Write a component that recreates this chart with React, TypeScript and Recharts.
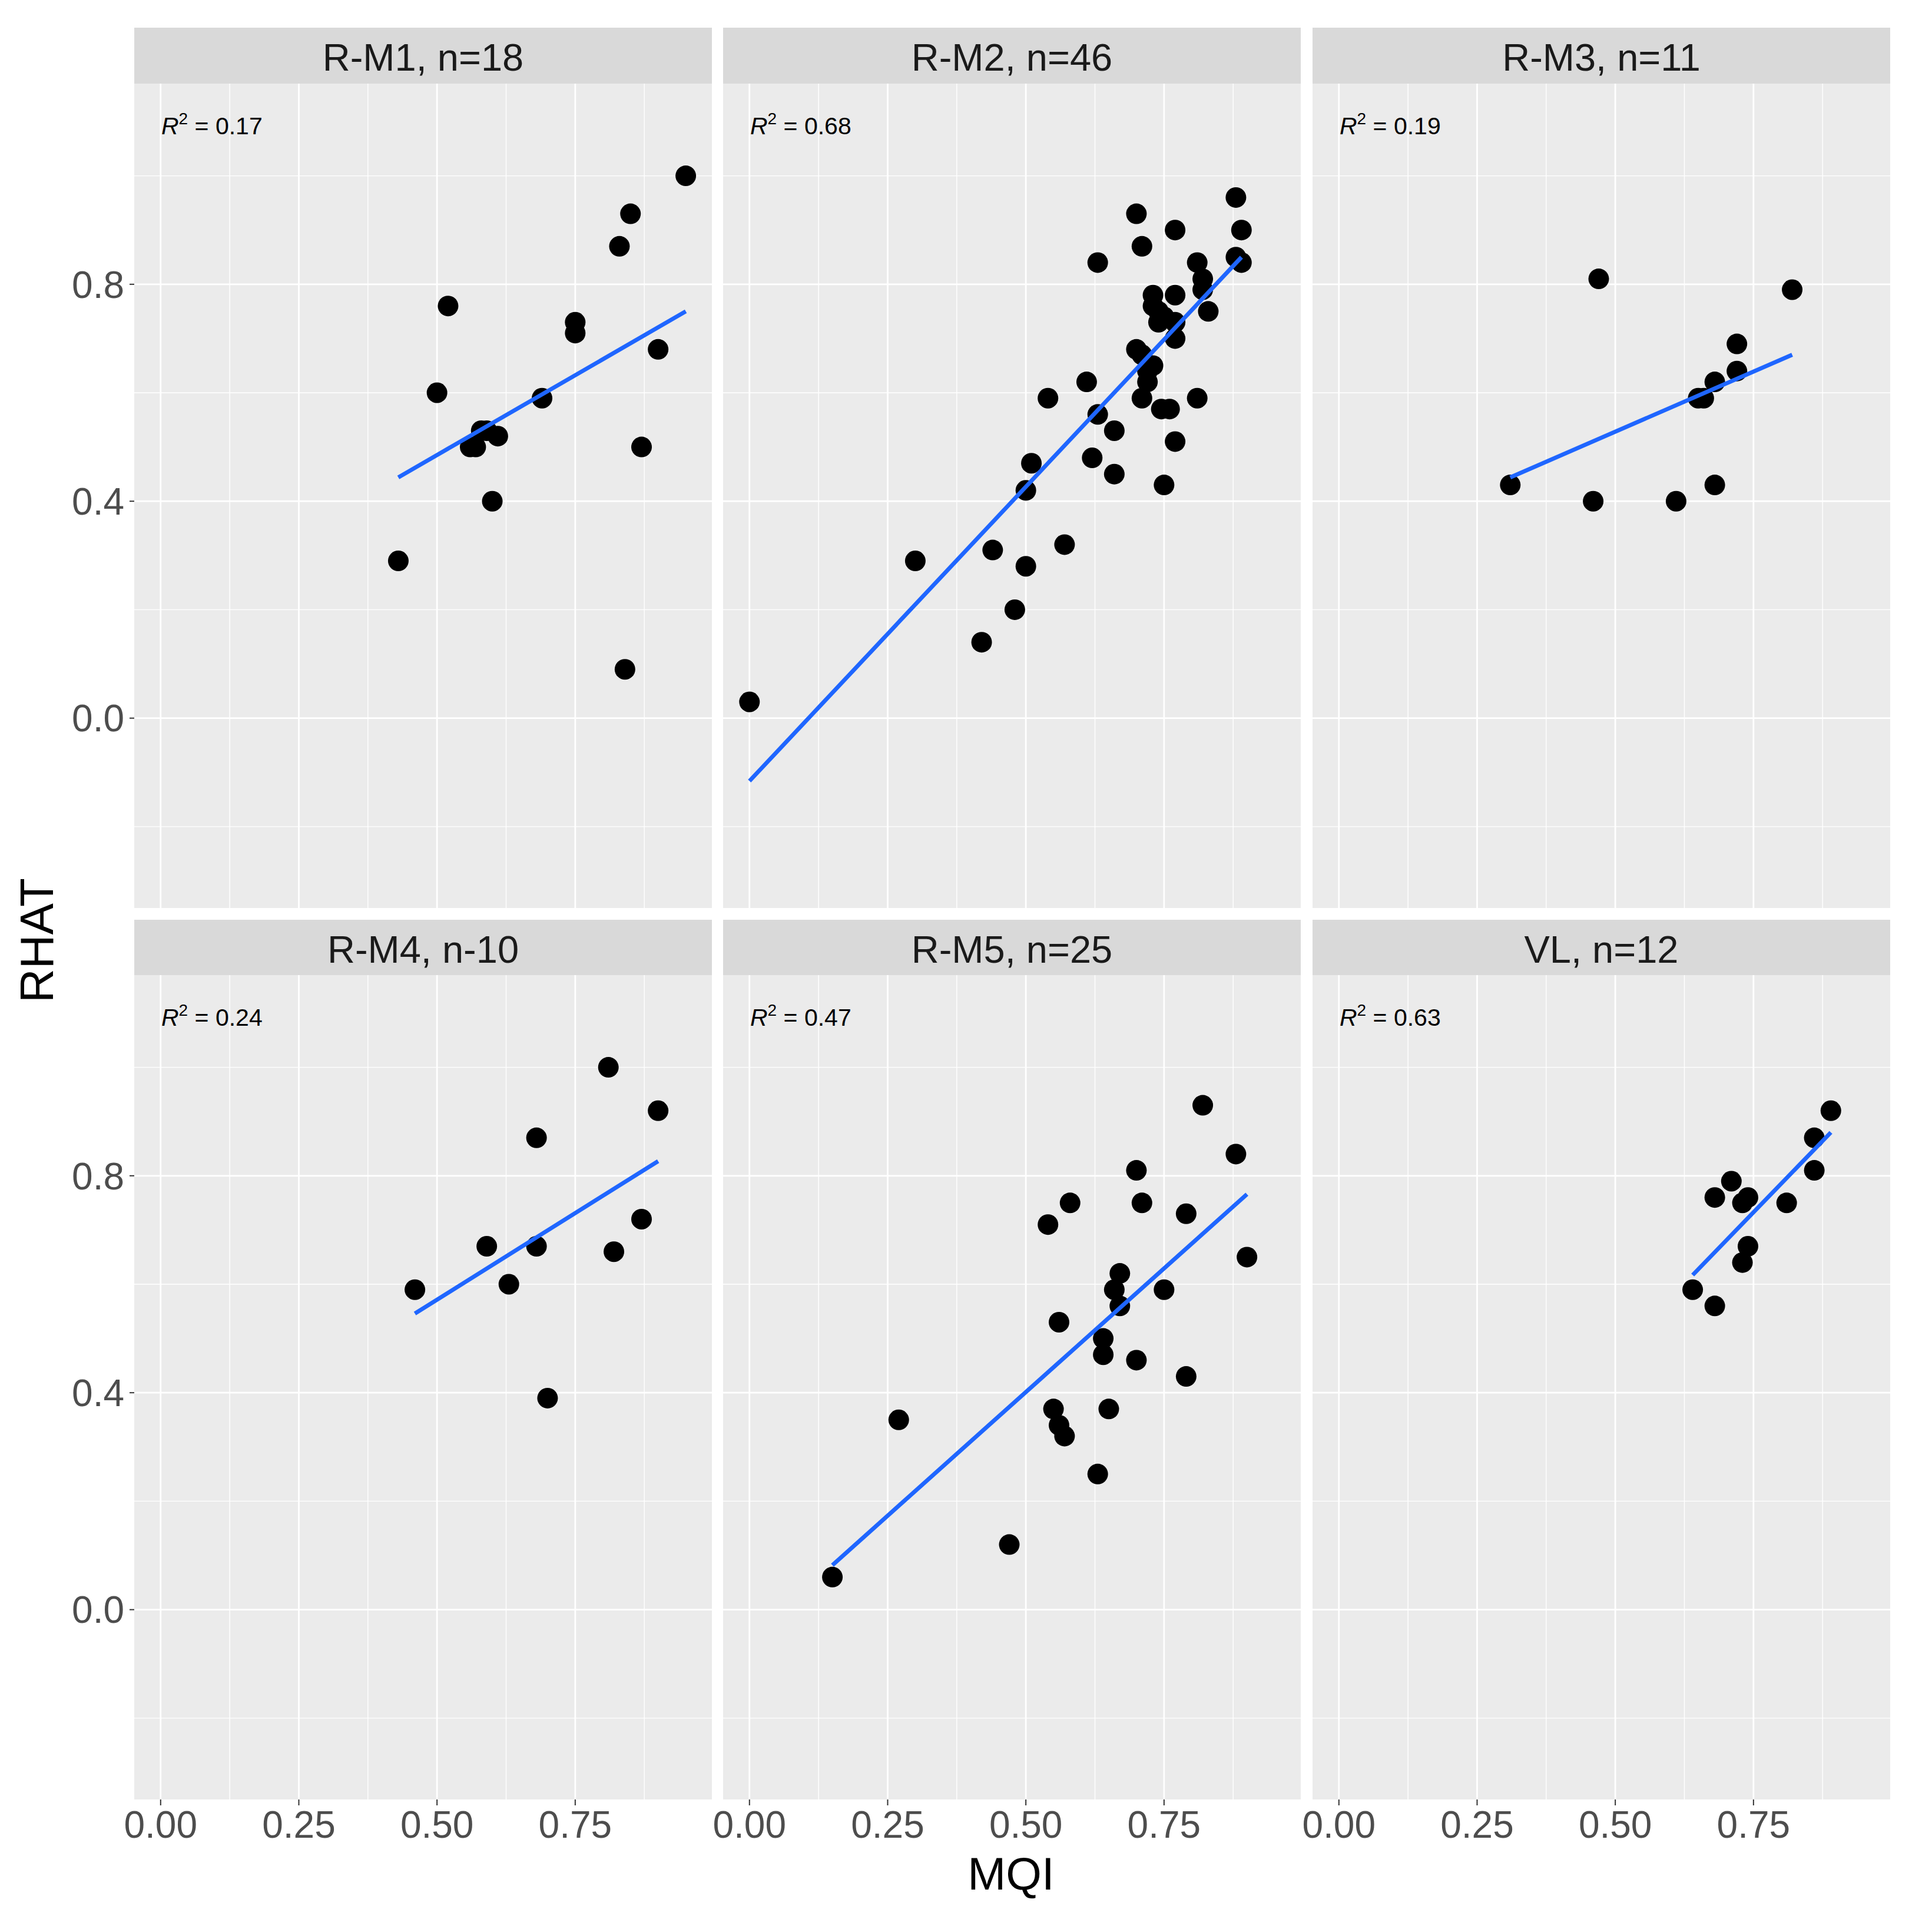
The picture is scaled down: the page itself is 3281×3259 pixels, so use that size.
import React from 'react';
import { ScatterChart, Scatter, XAxis, YAxis, CartesianGrid } from 'recharts';

// facet strips and annotations
const panelTitles = ['R-M1, n=18', 'R-M2, n=46', 'R-M3, n=11', 'R-M4, n-10', 'R-M5, n=25', 'VL, n=12'];
const r2Values = ['0.17', '0.68', '0.19', '0.24', '0.47', '0.63'];

// MQI / RHAT per site
const m1X = [0.95, 0.85, 0.83, 0.52, 0.75, 0.75, 0.9, 0.5, 0.69, 0.59, 0.58, 0.61, 0.56, 0.57, 0.87, 0.6, 0.43, 0.84];
const m1Y = [1.0, 0.93, 0.87, 0.76, 0.73, 0.71, 0.68, 0.6, 0.59, 0.53, 0.53, 0.52, 0.5, 0.5, 0.5, 0.4, 0.29, 0.09];

const m2X = [
  0.88, 0.7, 0.77, 0.89, 0.71, 0.63, 0.81, 0.88, 0.89, 0.82, 0.82, 0.73, 0.77, 0.73, 0.74, 0.83,
  0.74, 0.77, 0.77, 0.7, 0.71, 0.73, 0.72, 0.61, 0.54, 0.71, 0.81, 0.745, 0.76, 0.63, 0.66, 0.77,
  0.62, 0.51, 0.66, 0.75, 0.5, 0.57, 0.44, 0.3, 0.5, 0.48, 0.42, 0.0, 0.72, 0.75,
];
const m2Y = [
  0.96, 0.93, 0.9, 0.9, 0.87, 0.84, 0.84, 0.85, 0.84, 0.81, 0.79, 0.78, 0.78, 0.76, 0.75, 0.75,
  0.73, 0.73, 0.7, 0.68, 0.67, 0.65, 0.62, 0.62, 0.59, 0.59, 0.59, 0.57, 0.57, 0.56, 0.53, 0.51,
  0.48, 0.47, 0.45, 0.43, 0.42, 0.32, 0.31, 0.29, 0.28, 0.2, 0.14, 0.03, 0.64, 0.74,
];

const m3X = [0.47, 0.82, 0.72, 0.72, 0.68, 0.65, 0.66, 0.31, 0.46, 0.61, 0.68];
const m3Y = [0.81, 0.79, 0.69, 0.64, 0.62, 0.59, 0.59, 0.43, 0.4, 0.4, 0.43];

const m4X = [0.81, 0.9, 0.68, 0.87, 0.59, 0.68, 0.82, 0.63, 0.46, 0.7];
const m4Y = [1.0, 0.92, 0.87, 0.72, 0.67, 0.67, 0.66, 0.6, 0.59, 0.39];

const m5X = [
  0.82, 0.88, 0.7, 0.58, 0.71, 0.79, 0.54, 0.9, 0.67, 0.66, 0.75, 0.67, 0.56,
  0.64, 0.64, 0.7, 0.79, 0.55, 0.65, 0.27, 0.56, 0.57, 0.63, 0.47, 0.15,
];
const m5Y = [
  0.93, 0.84, 0.81, 0.75, 0.75, 0.73, 0.71, 0.65, 0.62, 0.59, 0.59, 0.56, 0.53,
  0.5, 0.47, 0.46, 0.43, 0.37, 0.37, 0.35, 0.34, 0.32, 0.25, 0.12, 0.06,
];

const vlX = [0.89, 0.86, 0.86, 0.71, 0.68, 0.74, 0.73, 0.81, 0.74, 0.73, 0.64, 0.68];
const vlY = [0.92, 0.87, 0.81, 0.79, 0.76, 0.76, 0.75, 0.75, 0.67, 0.64, 0.59, 0.56];

// lm fit line ends
const fitX = [[0.43, 0.95], [0.0, 0.89], [0.31, 0.82], [0.46, 0.9], [0.15, 0.9], [0.64, 0.89]];
const fitY = [[0.444, 0.75], [-0.116, 0.85], [0.444, 0.67], [0.546, 0.827], [0.082, 0.766], [0.617, 0.88]];

const panelX = [m1X, m2X, m3X, m4X, m5X, vlX];
const panelY = [m1Y, m2Y, m3Y, m4Y, m5Y, vlY];

const xTicks = [0, 0.25, 0.5, 0.75];
const xMinor = [0.125, 0.375, 0.625, 0.875];
const yTicks = [0, 0.4, 0.8];
const yMinor = [-0.2, 0.2, 0.6, 1.0];

const X_DOMAIN = [-0.0477, 0.9973];
const Y_DOMAIN = [-0.35, 1.17];

const FONT = '"Liberation Sans", Arial, sans-serif';
const PANEL_W = 981;
const PANEL_H = 1400;
const COL_LEFT = [228, 1228, 2229];
const STRIP_TOP = [47, 1562];
const PANEL_TOP = [142, 1656];
const STRIP_H = 95;
const Y_AXIS_W = 228;
const X_AXIS_H = 100;
const PAD_L = 40; // room for the "0.00" label that pokes out of inner columns
const FIT_BLUE = '#1F66FF';

const tickStyle = { fontSize: 64, fill: '#4D4D4D', fontFamily: FONT };

const Dot = (props: any) => <circle cx={props.cx} cy={props.cy} r={17.5} fill="#000000" />;

// draw the fit segment ourselves so the stroke width sticks
const FitLine = (props: any) => {
  const pts = (props.points || []) as { x: number; y: number }[];
  if (pts.length < 2) return <g />;
  return (
    <polyline
      points={pts.map((p) => `${p.x},${p.y}`).join(' ')}
      fill="none"
      stroke={FIT_BLUE}
      strokeWidth={7}
      strokeLinecap="butt"
    />
  );
};

function Panel({ idx }: { idx: number }) {
  const row = Math.floor(idx / 3);
  const col = idx % 3;
  const showY = col === 0;
  const showX = row === 1;
  const leftSpace = showY ? Y_AXIS_W : PAD_L;
  const xh = showX ? X_AXIS_H : 0;

  const points = panelX[idx].map((x, i) => ({ x, y: panelY[idx][i] }));
  const fit = fitX[idx].map((x, i) => ({ x, y: fitY[idx][i] }));

  return (
    <>
      <div
        style={{
          position: 'absolute',
          left: COL_LEFT[col],
          top: STRIP_TOP[row],
          width: PANEL_W,
          height: STRIP_H,
          background: '#D9D9D9',
          color: '#1A1A1A',
          fontSize: 65,
          lineHeight: `${STRIP_H}px`,
          paddingTop: 3,
          boxSizing: 'border-box',
          textAlign: 'center',
        }}
      >
        {panelTitles[idx]}
      </div>
      <div style={{ position: 'absolute', left: COL_LEFT[col] - leftSpace, top: PANEL_TOP[row] }}>
        <ScatterChart
          width={PANEL_W + leftSpace}
          height={PANEL_H + xh}
          margin={{ top: 0, right: 0, bottom: 0, left: showY ? 0 : PAD_L }}
        >
          <CartesianGrid
            fill="#EBEBEB"
            fillOpacity={1}
            stroke="#FFFFFF"
            strokeWidth={1.4}
            horizontalValues={yMinor}
            verticalValues={xMinor}
          />
          <CartesianGrid
            stroke="#FFFFFF"
            strokeWidth={2.8}
            horizontalValues={yTicks}
            verticalValues={xTicks}
          />
          <XAxis
            type="number"
            dataKey="x"
            domain={X_DOMAIN}
            allowDataOverflow
            ticks={xTicks}
            interval={0}
            hide={!showX}
            height={X_AXIS_H}
            tickFormatter={(v: number) => v.toFixed(2)}
            tick={tickStyle}
            tickSize={10}
            tickMargin={10}
            tickLine={{ stroke: '#333333', strokeWidth: 2 }}
            axisLine={false}
          />
          <YAxis
            type="number"
            dataKey="y"
            domain={Y_DOMAIN}
            allowDataOverflow
            ticks={yTicks}
            interval={0}
            hide={!showY}
            width={Y_AXIS_W}
            tickFormatter={(v: number) => v.toFixed(1)}
            tick={tickStyle}
            tickSize={8}
            tickMargin={9}
            tickLine={{ stroke: '#333333', strokeWidth: 2 }}
            axisLine={false}
          />
          <Scatter data={points} shape={Dot} isAnimationActive={false} />
          <Scatter
            data={fit}
            fill={FIT_BLUE}
            line={FitLine}
            shape={() => <g />}
            isAnimationActive={false}
          />
        </ScatterChart>
      </div>
      <div
        style={{
          position: 'absolute',
          left: COL_LEFT[col] + 46,
          top: PANEL_TOP[row] + 52,
          fontSize: 41,
          lineHeight: '41px',
          color: '#000000',
          whiteSpace: 'nowrap',
        }}
      >
        <i>R</i>
        <span style={{ fontSize: 28, position: 'relative', top: -17 }}>2</span> = {r2Values[idx]}
      </div>
    </>
  );
}

export default function App() {
  return (
    <div
      style={{
        position: 'absolute',
        left: 0,
        top: 0,
        width: 3281,
        height: 3259,
        background: '#FFFFFF',
        fontFamily: FONT,
        overflow: 'hidden',
      }}
    >
      {panelTitles.map((_, i) => (
        <Panel key={i} idx={i} />
      ))}
      <div
        style={{
          position: 'absolute',
          left: 1517,
          top: 3143,
          width: 400,
          fontSize: 78,
          lineHeight: '78px',
          textAlign: 'center',
          color: '#000000',
        }}
      >
        MQI
      </div>
      <div
        style={{
          position: 'absolute',
          left: 63 - 200,
          top: 1597 - 40,
          width: 400,
          height: 80,
          fontSize: 80,
          lineHeight: '80px',
          textAlign: 'center',
          color: '#000000',
          transform: 'rotate(-90deg)',
        }}
      >
        RHAT
      </div>
    </div>
  );
}
